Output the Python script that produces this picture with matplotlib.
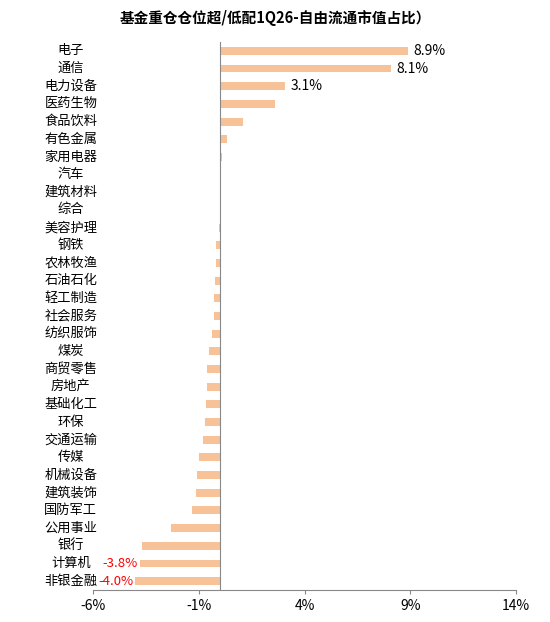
import matplotlib
matplotlib.use("Agg")
import matplotlib.pyplot as plt

plt.rcParams['font.family'] = ['Noto Sans CJK SC', 'DejaVu Sans']

categories = ["电子","通信","电力设备","医药生物","食品饮料","有色金属","家用电器","汽车","建筑材料","综合",
              "美容护理","钢铁","农林牧渔","石油石化","轻工制造","社会服务","纺织服饰","煤炭","商贸零售","房地产",
              "基础化工","环保","交通运输","传媒","机械设备","建筑装饰","国防军工","公用事业","银行","计算机","非银金融"]
values = [8.9,8.1,3.1,2.6,1.1,0.35,0.1,0.05,0.0,0.0,
          -0.05,-0.2,-0.2,-0.25,-0.3,-0.3,-0.35,-0.5,-0.6,-0.6,
          -0.65,-0.7,-0.8,-1.0,-1.1,-1.15,-1.3,-2.3,-3.7,-3.8,-4.0]
labeled = {"电子":"8.9%","通信":"8.1%","电力设备":"3.1%","计算机":"-3.8%","非银金融":"-4.0%"}
xticks = [-6,-1,4,9,14]

fig = plt.figure(figsize=(5.5,6.22), dpi=100)
ax = fig.add_axes([93/550, 1-590/622, 423/550, 548/622])
n = len(categories)
y = list(range(n))
ax.barh(y, values, height=0.45, color="#F8C298")
ax.set_ylim(n-0.5, -0.5)
ax.set_xlim(-6,14)
ax.set_xticks(xticks)
ax.set_xticklabels([f"{t}%" for t in xticks], fontsize=10)
ax.set_yticks([])
for s in ["top","right","left"]:
    ax.spines[s].set_visible(False)
ax.spines["bottom"].set_color("#888888")
ax.axvline(0, color="#888888", lw=0.8)
ax.tick_params(axis='x', length=3, color="#888888")
for i,(c,v) in enumerate(zip(categories,values)):
    ax.text(-7.05, i, c, ha="center", va="center", fontsize=9.5, clip_on=False)
    if c in labeled:
        if v >= 0:
            ax.text(v+0.25, i, labeled[c], ha="left", va="center", fontsize=10)
        else:
            ax.text(v-0.1, i, labeled[c], ha="right", va="center", fontsize=9.5, color="red")
fig.text(0.5, 1-18/622, "基金重仓仓位超/低配1Q26-自由流通市值占比）", ha="center", va="center",
         fontsize=10.5, fontweight="bold")
fig.savefig("out.png", dpi=100)
